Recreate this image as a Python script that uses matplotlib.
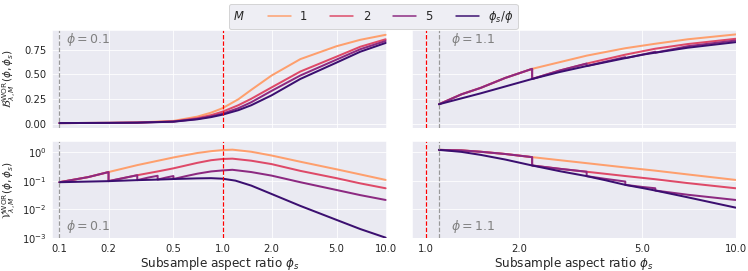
import matplotlib
matplotlib.use("Agg")
import matplotlib.pyplot as plt
import seaborn as sns
from matplotlib.lines import Line2D
from matplotlib.ticker import NullLocator

sns.set_style("darkgrid")
plt.rcParams['font.family'] = ['DejaVu Sans']

# ---- data ----
m_labels = ['1', '2', '5', r'$\phi_s/\phi$']
colors = sns.color_palette("magma_r", 4)

phi_left = 0.1
phi_right = 1.1

# top left: bias, phi = 0.1
x_tl = [0.1, 0.2, 0.3, 0.5, 0.7, 0.85, 1.0, 1.25, 1.5, 2, 3, 5, 7, 10]
b_tl_m1 = [0.01, 0.012, 0.016, 0.032, 0.075, 0.115, 0.16, 0.25, 0.345, 0.49, 0.655, 0.785, 0.85, 0.90]
b_tl_m2 = [0.01, 0.012, 0.015, 0.027, 0.06, 0.09, 0.125, 0.19, 0.255, 0.37, 0.53, 0.68, 0.78, 0.855]
b_tl_m5 = [0.01, 0.012, 0.015, 0.025, 0.052, 0.078, 0.105, 0.16, 0.22, 0.335, 0.49, 0.65, 0.755, 0.838]
b_tl_full = [0.01, 0.012, 0.014, 0.024, 0.048, 0.07, 0.095, 0.14, 0.19, 0.29, 0.455, 0.62, 0.73, 0.818]

# top right: bias, phi = 1.1
x_tr_m1 = [1.1, 1.3, 1.5, 1.8, 2.2, 3.3, 4.4, 5.5, 7, 10]
b_tr_m1 = [0.20, 0.30, 0.365, 0.465, 0.557, 0.69, 0.765, 0.81, 0.855, 0.904]
x_tr_m2 = [1.1, 1.3, 1.5, 1.8, 2.2, 2.2, 2.7, 3.3, 4.4, 5.5, 7, 10]
b_tr_m2 = [0.20, 0.30, 0.365, 0.465, 0.557, 0.455, 0.54, 0.61, 0.70, 0.76, 0.807, 0.86]
x_tr_m5 = [1.1, 1.3, 1.5, 1.8, 2.2, 2.2, 2.7, 3.3, 3.3, 3.8, 4.4, 4.4, 5.0, 5.5, 5.5, 7, 10]
b_tr_m5 = [0.20, 0.30, 0.365, 0.465, 0.557, 0.455, 0.54, 0.61, 0.585, 0.63, 0.675, 0.665, 0.70, 0.73, 0.72, 0.785, 0.843]
x_tr_full = [1.1, 1.5, 2.2, 2.7, 3.3, 4.4, 5.0, 5.5, 7, 10]
b_tr_full = [0.20, 0.31, 0.455, 0.525, 0.585, 0.665, 0.70, 0.72, 0.77, 0.826]

# bottom left: variance, phi = 0.1
x_bl_m1 = [0.1, 0.15, 0.2, 0.3, 0.5, 0.7, 0.85, 1.0, 1.15, 1.5, 2, 3, 5, 7, 10]
v_bl_m1 = [0.088, 0.133, 0.20, 0.35, 0.65, 0.93, 1.08, 1.18, 1.22, 1.03, 0.76, 0.46, 0.25, 0.165, 0.106]
x_bl_m2 = [0.1, 0.15, 0.2, 0.2, 0.25, 0.3, 0.4, 0.5, 0.7, 0.85, 1.0, 1.15, 1.5, 2, 3, 5, 7, 10]
v_bl_m2 = [0.088, 0.133, 0.20, 0.096, 0.125, 0.155, 0.21, 0.27, 0.42, 0.52, 0.575, 0.59, 0.50, 0.38, 0.22, 0.122, 0.08, 0.054]
x_bl_m5 = [0.1, 0.15, 0.2, 0.2, 0.25, 0.3, 0.3, 0.35, 0.4, 0.4, 0.45, 0.5, 0.5,
           0.6, 0.7, 0.85, 1.0, 1.15, 1.5, 2, 3, 5, 7, 10]
v_bl_m5 = [0.088, 0.133, 0.20, 0.096, 0.125, 0.155, 0.104, 0.128, 0.148, 0.109, 0.128, 0.145, 0.114,
           0.145, 0.175, 0.21, 0.228, 0.24, 0.20, 0.15, 0.088, 0.047, 0.031, 0.021]
x_bl_full = [0.1, 0.2, 0.3, 0.4, 0.5, 0.7, 0.85, 1.0, 1.2, 1.5, 2, 3, 5, 7, 10]
v_bl_full = [0.088, 0.096, 0.104, 0.109, 0.114, 0.12, 0.122, 0.117, 0.10, 0.067, 0.034, 0.013, 0.0042, 0.002, 0.001]

# bottom right: variance, phi = 1.1
x_br_m1 = [1.1, 1.3, 1.5, 1.8, 2.2, 3.3, 4.4, 5.5, 7, 10]
v_br_m1 = [1.2, 1.15, 1.03, 0.86, 0.667, 0.41, 0.29, 0.224, 0.165, 0.106]
x_br_m2 = [1.1, 1.3, 1.5, 1.8, 2.2, 2.2, 2.7, 3.3, 4.4, 5.5, 7, 10]
v_br_m2 = [1.2, 1.15, 1.03, 0.86, 0.667, 0.34, 0.26, 0.205, 0.145, 0.112, 0.082, 0.054]
x_br_m5 = [1.1, 1.3, 1.5, 1.8, 2.2, 2.2, 2.7, 3.3, 3.3, 3.8, 4.4, 4.4, 5.0, 5.5, 5.5, 7, 10]
v_br_m5 = [1.2, 1.15, 1.03, 0.86, 0.667, 0.34, 0.26, 0.205, 0.144, 0.115, 0.093, 0.071, 0.06, 0.054, 0.045, 0.032, 0.021]
x_br_full = [1.1, 1.3, 1.5, 1.8, 2.2, 2.7, 3.3, 3.8, 4.4, 5.0, 5.5, 7, 10]
v_br_full = [1.2, 1.02, 0.8, 0.55, 0.34, 0.215, 0.144, 0.103, 0.071, 0.055, 0.045, 0.026, 0.0113]

xticks_left = [0.1, 0.2, 0.5, 1.0, 2.0, 5.0, 10.0]
xticks_right = [1.0, 2.0, 5.0, 10.0]

panels = {
    (0, 0): [(x_tl, b_tl_m1), (x_tl, b_tl_m2), (x_tl, b_tl_m5), (x_tl, b_tl_full)],
    (0, 1): [(x_tr_m1, b_tr_m1), (x_tr_m2, b_tr_m2), (x_tr_m5, b_tr_m5), (x_tr_full, b_tr_full)],
    (1, 0): [(x_bl_m1, v_bl_m1), (x_bl_m2, v_bl_m2), (x_bl_m5, v_bl_m5), (x_bl_full, v_bl_full)],
    (1, 1): [(x_br_m1, v_br_m1), (x_br_m2, v_br_m2), (x_br_m5, v_br_m5), (x_br_full, v_br_full)],
}

fig = plt.figure(figsize=(748 / 72, 271 / 72), dpi=72)
gs = fig.add_gridspec(2, 2, width_ratios=[335, 324], left=0.0695, right=0.984,
                      bottom=0.1207, top=0.8893, wspace=0.0759, hspace=0.136)
axs = gs.subplots(sharex='col', sharey='row')

for (r, c), curves in panels.items():
    ax = axs[r, c]
    for (xs, ys), col in zip(curves, colors):
        ax.plot(xs, ys, color=col, lw=2)
    phi = phi_left if c == 0 else phi_right
    ax.axvline(phi, color='0.6', ls='--', lw=1.2)
    ax.axvline(1.0, color='red', ls='--', lw=1.2)
    ax.set_xscale('log')
    ax.xaxis.set_minor_locator(NullLocator())
    ypos = 0.9 if r == 0 else 0.12
    ax.text(phi * 1.09, ypos, r'$\phi = %.1f$' % phi, transform=ax.get_xaxis_transform(),
            color='grey', fontsize=12.5, va='center', ha='left')
    ax.tick_params(labelsize=10, pad=2)

axs[1, 0].set_yscale('log')
axs[1, 0].yaxis.set_minor_locator(NullLocator())
axs[1, 0].set_ylim(9.5e-4, 2.5)

axs[0, 0].set_xlim(0.09, 10.2)
axs[0, 1].set_xlim(0.9, 10.03)
axs[1, 0].set_xticks(xticks_left)
axs[1, 0].set_xticklabels(['%.1f' % t for t in xticks_left])
axs[1, 1].set_xticks(xticks_right)
axs[1, 1].set_xticklabels(['%.1f' % t for t in xticks_right])
axs[0, 0].set_yticks([0.0, 0.25, 0.5, 0.75])

axs[0, 0].set_ylabel(r'$\mathcal{B}^{\mathrm{WOR}}_{\lambda,M}(\phi,\phi_s)$', fontsize=10.5)
axs[1, 0].set_ylabel(r'$\mathcal{V}^{\mathrm{WOR}}_{\lambda,M}(\phi,\phi_s)$', fontsize=10.5)
axs[0, 0].yaxis.set_label_coords(-0.098, 0.5)
axs[1, 0].yaxis.set_label_coords(-0.098, 0.5)
axs[1, 0].set_xlabel(r'Subsample aspect ratio $\phi_s$', fontsize=12, labelpad=1)
axs[1, 1].set_xlabel(r'Subsample aspect ratio $\phi_s$', fontsize=12, labelpad=1)

handles = [Line2D([], [], color=col, lw=1.5) for col in colors]
leg = fig.legend(handles, m_labels, title='$M$', ncol=4, loc='upper center',
                 bbox_to_anchor=(0.499, 0.985), borderaxespad=0, fontsize=11.5,
                 title_fontsize=11.5)
# put the legend title on the left of the entries
box = leg.get_children()[0]
title = box.get_children()[0]
hpack = box.get_children()[1]
box._children.remove(title)
hpack._children.insert(0, title)

fig.savefig('out.png', dpi=72)
